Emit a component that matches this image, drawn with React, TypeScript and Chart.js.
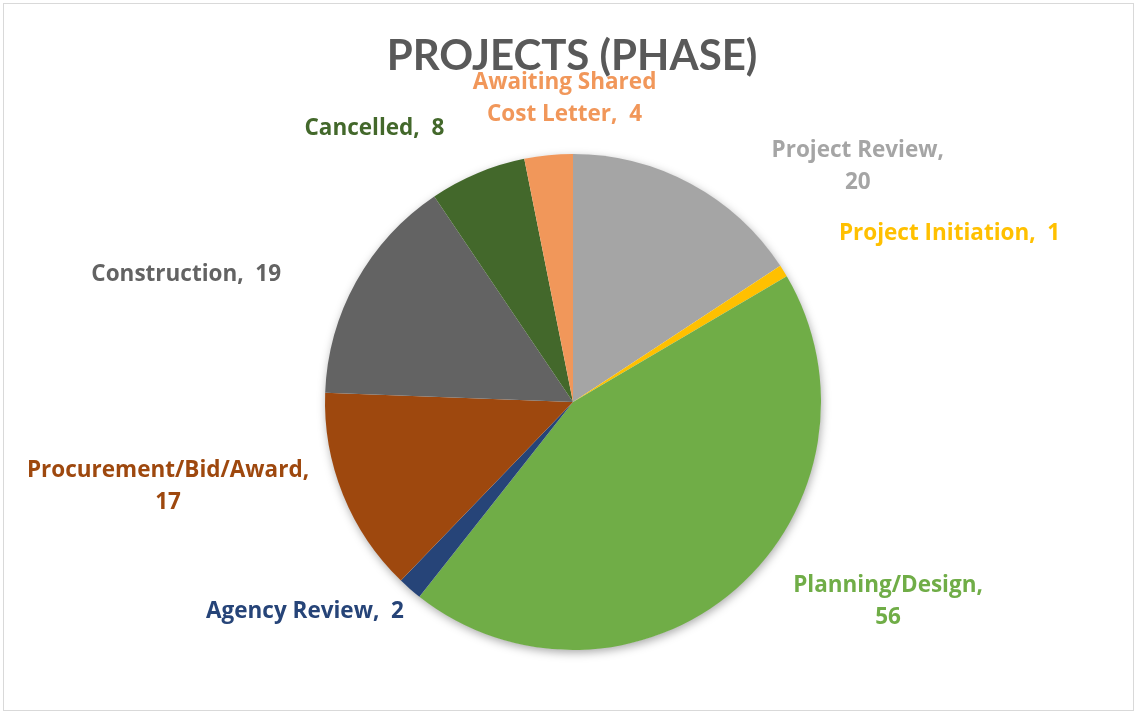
import React, { useEffect, useRef } from "react";
import { Chart, registerables } from "chart.js";

Chart.register(...registerables);

const categories = [
  "Project Review",
  "Project Initiation",
  "Planning/Design",
  "Agency Review",
  "Procurement/Bid/Award",
  "Construction",
  "Cancelled",
  "Awaiting Shared Cost Letter",
];
const values = [20, 1, 56, 2, 17, 19, 8, 4];
const colors = ["#A5A5A5", "#FFC000", "#70AD47", "#264478", "#9E480E", "#636363", "#43682B", "#F1975A"];
const labelLines = [
  ["Project Review,", "20"],
  ["Project Initiation,  1"],
  ["Planning/Design,", "56"],
  ["Agency Review,  2"],
  ["Procurement/Bid/Award,", "17"],
  ["Construction,  19"],
  ["Cancelled,  8"],
  ["Awaiting Shared", "Cost Letter,  4"],
];
// label offsets from the outer edge midpoint of each slice
const labelOffsets = [
  [167, -17],
  [166, -37],
  [152, 13],
  [-105, 23],
  [-175, -8],
  [-170, -7],
  [-103, -45],
  [16, -57],
];
const title = "PROJECTS (PHASE)";

const TITLE_FONT = "Lato, 'Open Sans', sans-serif";
const LABEL_FONT = "'Open Sans', Lato, sans-serif";

const decorPlugin = {
  id: "decor",
  beforeDatasetsDraw(chart: any) {
    const meta = chart.getDatasetMeta(0);
    const a = meta.data[0];
    if (!a) return;
    const ctx = chart.ctx;
    ctx.save();
    ctx.shadowColor = "rgba(0,0,0,0.35)";
    ctx.shadowBlur = 10;
    ctx.shadowOffsetX = 1;
    ctx.shadowOffsetY = 3;
    ctx.fillStyle = "#ffffff";
    ctx.beginPath();
    ctx.arc(a.x, a.y, a.outerRadius - 0.5, 0, Math.PI * 2);
    ctx.fill();
    ctx.restore();
  },
  afterDatasetsDraw(chart: any) {
    const ctx = chart.ctx;
    const meta = chart.getDatasetMeta(0);
    ctx.save();
    ctx.fillStyle = "#595959";
    ctx.font = `bold 42px ${TITLE_FONT}`;
    ctx.textAlign = "center";
    ctx.textBaseline = "middle";
    ctx.fillText(title, chart.width / 2 + 3, 56);
    ctx.font = `bold 22.5px ${LABEL_FONT}`;
    meta.data.forEach((arc: any, i: number) => {
      const mid = (arc.startAngle + arc.endAngle) / 2;
      const ex = arc.x + arc.outerRadius * Math.cos(mid);
      const ey = arc.y + arc.outerRadius * Math.sin(mid);
      const cx = ex + labelOffsets[i][0];
      const cy = ey + labelOffsets[i][1];
      const lines = labelLines[i];
      const lh = 32;
      const y0 = cy - ((lines.length - 1) * lh) / 2;
      ctx.fillStyle = colors[i];
      lines.forEach((t, k) => ctx.fillText(t, cx, y0 + k * lh));
    });
    ctx.restore();
  },
};

export default function App() {
  const ref = useRef<HTMLCanvasElement>(null);
  useEffect(() => {
    if (!ref.current) return;
    const chart = new Chart(ref.current, {
      type: "pie",
      data: {
        labels: categories,
        datasets: [
          {
            data: values,
            backgroundColor: colors,
            borderWidth: 0,
          },
        ],
      },
      options: {
        animation: false,
        responsive: true,
        maintainAspectRatio: false,
        layout: { padding: { left: 100, right: 92, top: 154, bottom: 64 } },
        plugins: {
          legend: { display: false },
          title: { display: false },
          tooltip: { enabled: false },
        },
      },
      plugins: [decorPlugin],
    });
    return () => chart.destroy();
  }, []);
  return (
    <div style={{ position: "fixed", left: 0, top: 0, width: 1138, height: 714, background: "#fff" }}>
      <div
        style={{
          position: "absolute",
          left: 3,
          top: 3,
          width: 1131,
          height: 708,
          border: "1px solid #D9D9D9",
          boxSizing: "border-box",
        }}
      />
      <canvas ref={ref} style={{ position: "absolute", left: 0, top: 0 }} />
    </div>
  );
}
